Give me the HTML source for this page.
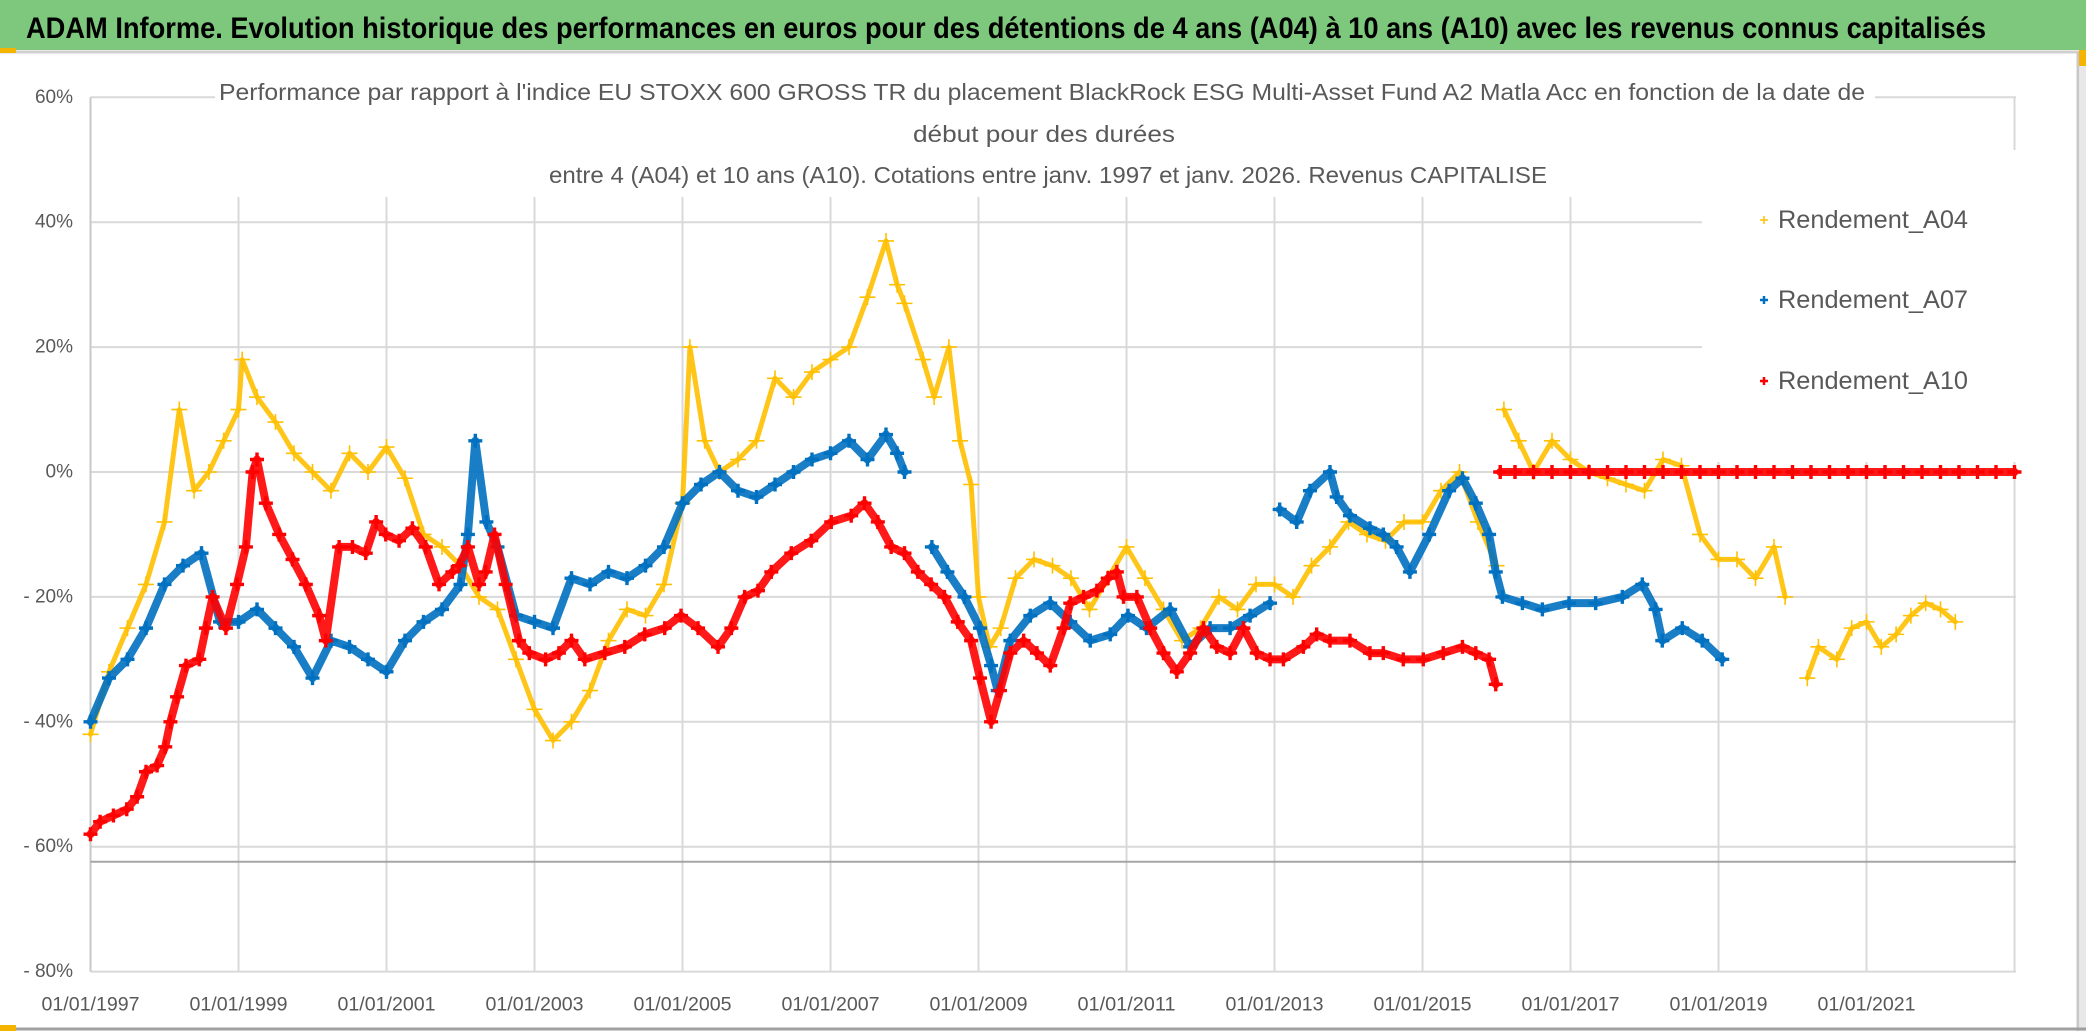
<!DOCTYPE html>
<html><head><meta charset="utf-8"><title>ADAM Informe</title>
<style>
html,body{margin:0;padding:0;background:#fff;}
svg{display:block;font-family:"Liberation Sans",sans-serif;}
</style></head>
<body>
<svg id="chart" width="2086" height="1031" viewBox="0 0 2086 1031" xmlns="http://www.w3.org/2000/svg">
  <rect x="0" y="0" width="2086" height="1031" fill="#ffffff"/>
  <rect x="0" y="0" width="2086" height="50" fill="#7dc87d"/>
  <line x1="0" y1="52" x2="2086" y2="52" stroke="#d0d0d0" stroke-width="3"/>
  <rect x="0" y="48" width="16" height="5" fill="#f4b400"/>
  <text x="26" y="38" font-size="30" font-weight="bold" fill="#000" textLength="1960" lengthAdjust="spacingAndGlyphs">ADAM Informe. Evolution historique des performances en euros pour des détentions de 4 ans (A04) à 10 ans (A10) avec les revenus connus capitalisés</text>
  <line x1="2078" y1="52" x2="2078" y2="1031" stroke="#c8c8c8" stroke-width="3"/>
  <rect x="2080" y="52" width="6" height="979" fill="#e8e8e8"/>
  <rect x="2079" y="50" width="7" height="16" fill="#f4b400"/>
  <line x1="0" y1="1029" x2="2086" y2="1029" stroke="#a0a0a0" stroke-width="3"/>
  <rect x="0" y="1025" width="16" height="6" fill="#f4b400"/>
  <g id="grid"></g>
  <rect x="215" y="70" width="1660" height="127" fill="#ffffff"/>
  <g font-size="23" fill="#595959" text-anchor="middle" dominant-baseline="central">
    <text x="1042" y="92" textLength="1646" lengthAdjust="spacingAndGlyphs">Performance  par rapport à l'indice EU STOXX 600 GROSS TR  du placement BlackRock ESG Multi-Asset Fund A2 Matla Acc en fonction de la date de</text>
    <text x="1044" y="134" textLength="262" lengthAdjust="spacingAndGlyphs">début pour des durées</text>
    <text x="1048" y="175" textLength="998" lengthAdjust="spacingAndGlyphs">entre 4 (A04) et 10 ans (A10). Cotations entre janv. 1997 et janv. 2026. Revenus CAPITALISE</text>
  </g>
  <g id="series"></g>
  <g id="legend"></g>
</svg>
<script>
// ---- data ----
const yTicks = [60, 40, 20, 0, -20, -40, -60, -80];
const yTickLabels = ["60%", "40%", "20%", "0%", "- 20%", "- 40%", "- 60%", "- 80%"];
const xTickYears = [1997, 1999, 2001, 2003, 2005, 2007, 2009, 2011, 2013, 2015, 2017, 2019, 2021];
const xTickLabels = ["01/01/1997","01/01/1999","01/01/2001","01/01/2003","01/01/2005","01/01/2007","01/01/2009","01/01/2011","01/01/2013","01/01/2015","01/01/2017","01/01/2019","01/01/2021"];
const seriesNames = ["Rendement_A04", "Rendement_A07", "Rendement_A10"];
const axisCrossValue = -62.4;

const a04Dates = [1997.0,1997.25,1997.5,1997.75,1998.0,1998.2,1998.4,1998.6,1998.8,1999.0,1999.05,1999.25,1999.5,1999.75,2000.0,2000.25,2000.5,2000.75,2001.0,2001.25,2001.5,2001.75,2002.0,2002.25,2002.5,2002.75,2003.0,2003.25,2003.5,2003.75,2004.0,2004.25,2004.5,2004.75,2005.0,2005.1,2005.3,2005.5,2005.75,2006.0,2006.25,2006.5,2006.75,2007.0,2007.25,2007.5,2007.75,2007.9,2008.0,2008.25,2008.4,2008.6,2008.75,2008.9,2009.0,2009.15,2009.3,2009.5,2009.75,2010.0,2010.25,2010.5,2010.75,2011.0,2011.25,2011.5,2011.75,2012.0,2012.25,2012.5,2012.75,2013.0,2013.25,2013.5,2013.75,2014.0,2014.25,2014.5,2014.75,2015.0,2015.25,2015.5,2015.75,2016.0,null,2016.1,2016.3,2016.5,2016.75,2017.0,2017.25,2017.5,2017.75,2018.0,2018.25,2018.5,2018.75,2019.0,2019.25,2019.5,2019.75,2019.9,null,2020.2,2020.35,2020.6,2020.8,2021.0,2021.2,2021.4,2021.6,2021.8,2022.0,2022.2];
const a04Values = [-42,-32,-25,-18,-8,10,-3,0,5,10,18,12,8,3,0,-3,3,0,4,-1,-10,-12,-15,-20,-22,-30,-38,-43,-40,-35,-27,-22,-23,-18,-5,20,5,0,2,5,15,12,16,18,20,28,37,30,27,18,12,20,5,-2,-20,-28,-25,-17,-14,-15,-17,-22,-17,-12,-17,-22,-27,-25,-20,-22,-18,-18,-20,-15,-12,-8,-10,-11,-8,-8,-3,0,-8,-15,null,10,5,0,5,2,0,-1,-2,-3,2,1,-10,-14,-14,-17,-12,-20,null,-33,-28,-30,-25,-24,-28,-26,-23,-21,-22,-24];

const a07Dates = [1997.0,1997.25,1997.5,1997.75,1998.0,1998.25,1998.5,1998.75,1999.0,1999.25,1999.5,1999.75,2000.0,2000.25,2000.5,2000.75,2001.0,2001.25,2001.5,2001.75,2002.0,2002.1,2002.2,2002.35,2002.5,2002.75,2003.0,2003.25,2003.5,2003.75,2004.0,2004.25,2004.5,2004.75,2005.0,2005.25,2005.5,2005.75,2006.0,2006.25,2006.5,2006.75,2007.0,2007.25,2007.5,2007.75,2007.9,2008.0,null,2008.37,2008.58,2008.81,2009.02,2009.17,2009.26,2009.43,2009.7,2009.97,2010.24,2010.51,2010.78,2011.02,2011.27,2011.59,2011.86,2012.13,2012.4,2012.67,2012.94,null,2013.07,2013.3,2013.48,2013.75,2013.84,2014.02,2014.29,2014.47,2014.65,2014.83,2015.09,2015.36,2015.54,2015.72,2015.9,2015.99,2016.08,2016.35,2016.62,2016.98,2017.34,2017.7,2017.97,2018.15,2018.24,2018.51,2018.78,2019.05];
const a07Values = [-40,-33,-30,-25,-18,-15,-13,-24,-24,-22,-25,-28,-33,-27,-28,-30,-32,-27,-24,-22,-18,-10,5,-8,-12,-23,-24,-25,-17,-18,-16,-17,-15,-12,-5,-2,0,-3,-4,-2,0,2,3,5,2,6,3,0,null,-12,-16,-20,-25,-31,-35,-27,-23,-21,-24,-27,-26,-23,-25,-22,-28,-25,-25,-23,-21,null,-6,-8,-3,0,-4,-7,-9,-10,-12,-16,-10,-3,-1,-5,-10,-16,-20,-21,-22,-21,-21,-20,-18,-22,-27,-25,-27,-30];

const a10Dates = [1997.0,1997.13,1997.31,1997.49,1997.63,1997.75,1997.9,1998.01,1998.08,1998.17,1998.29,1998.47,1998.56,1998.65,1998.83,1998.98,1999.1,1999.19,1999.25,1999.37,1999.55,1999.73,1999.91,2000.09,2000.18,2000.36,2000.54,2000.72,2000.86,2000.99,2001.17,2001.35,2001.53,2001.71,2001.89,2001.98,2002.1,2002.25,2002.34,2002.46,2002.61,2002.79,2002.93,2003.15,2003.33,2003.5,2003.68,2003.95,2004.22,2004.49,2004.76,2004.98,2005.21,2005.48,2005.66,2005.84,2006.02,2006.2,2006.47,2006.74,2007.01,2007.28,2007.46,2007.64,2007.82,2008.0,2008.18,2008.36,2008.54,2008.72,2008.9,2009.02,2009.17,2009.29,2009.43,2009.61,2009.79,2009.97,2010.15,2010.24,2010.42,2010.6,2010.75,2010.87,2010.96,2011.14,2011.32,2011.5,2011.68,2011.86,2012.04,2012.22,2012.4,2012.58,2012.76,2012.94,2013.12,2013.39,2013.57,2013.75,2014.02,2014.29,2014.47,2014.74,2015.01,2015.28,2015.54,2015.72,2015.9,2015.99,null,2016.05,2016.25,2016.5,2016.75,2017.0,2017.25,2017.5,2017.75,2018.0,2018.25,2018.5,2018.75,2019.0,2019.25,2019.5,2019.75,2020.0,2020.25,2020.5,2020.75,2021.0,2021.25,2021.5,2021.75,2022.0,2022.25,2022.5,2022.75,2023.0];
const a10Values = [-58,-56,-55,-54,-52,-48,-47,-44,-40,-36,-31,-30,-25,-20,-25,-18,-12,0,2,-5,-10,-14,-18,-23,-27,-12,-12,-13,-8,-10,-11,-9,-12,-18,-16,-15,-12,-18,-16,-10,-18,-27,-29,-30,-29,-27,-30,-29,-28,-26,-25,-23,-25,-28,-25,-20,-19,-16,-13,-11,-8,-7,-5,-8,-12,-13,-16,-18,-20,-24,-27,-33,-40,-35,-29,-27,-29,-31,-25,-21,-20,-19,-17,-16,-20,-20,-25,-29,-32,-29,-25,-28,-29,-25,-29,-30,-30,-28,-26,-27,-27,-29,-29,-30,-30,-29,-28,-29,-30,-34,null,0,0,0,0,0,0,0,0,0,0,0,0,0,0,0,0,0,0,0,0,0,0,0,0,0,0,0,0,0];

// ---- axes ----
const NS = "http://www.w3.org/2000/svg";
const X0 = 90.5, PX_PER_YEAR = 74, X_END = 2016;
const Y_ZERO = 472, PX_PER_PCT = 6.245;
function xScale(yr){ return X0 + (yr - 1997) * PX_PER_YEAR; }
function yScale(v){ return Y_ZERO - v * PX_PER_PCT; }
function mk(tag, attrs, parent){
  const e = document.createElementNS(NS, tag);
  for (const k in attrs) e.setAttribute(k, attrs[k]);
  parent.appendChild(e);
  return e;
}
const grid = document.getElementById('grid');
const yTop = yScale(60), yBot = yScale(-80);

xTickYears.concat([2023]).forEach((yr) => {
  const gx = xScale(yr);
  const l = mk('line', {x1: gx, y1: yTop, x2: gx, y2: yBot, stroke: '#d9d9d9', 'stroke-width': 2}, grid);
  
  
});
yTicks.forEach((v, i) => {
  const gy = yScale(v);
  const l = mk('line', {x1: X0, y1: gy, x2: X_END, y2: gy, stroke: '#d9d9d9', 'stroke-width': 2}, grid);
  
  
  const t = mk('text', {x: 73, y: gy, 'text-anchor': 'end', 'dominant-baseline': 'central', 'font-size': 19, fill: '#595959'}, grid);
  t.textContent = yTickLabels[i];
  
  
});
xTickYears.forEach((yr, i) => {
  const t = mk('text', {x: xScale(yr), y: 1005, 'text-anchor': 'middle', 'dominant-baseline': 'central', 'font-size': 19, fill: '#595959', textLength: 98, lengthAdjust: 'spacingAndGlyphs'}, grid);
  t.textContent = xTickLabels[i];
  
  
});
const yAxis = mk('line', {x1: X0, y1: yTop, x2: X0, y2: yBot, stroke: '#c8c8c8', 'stroke-width': 2}, grid);


const xAxis = mk('line', {x1: X0, y1: yScale(axisCrossValue), x2: X_END, y2: yScale(axisCrossValue), stroke: '#a6a6a6', 'stroke-width': 2}, grid);


const legBg = mk('rect', {x: 1702, y: 150, width: 316, height: 312, fill: '#ffffff'}, grid);



// ---- series ----
const seriesG = document.getElementById('series');
const colors = ['#ffc000', '#0070c0', '#ff0000'];
const lineW = [5, 8, 8];
const mSize = [8, 7, 7];
const mStroke = [1.6, 3.4, 3.4];
const allDates = [a04Dates, a07Dates, a10Dates];
const allValues = [a04Values, a07Values, a10Values];

function drawSeries(si){
  const g = mk('g', {}, seriesG);
  
  
  const d = allDates[si], v = allValues[si];
  let path = '', pen = false;
  for (let i = 0; i < d.length; i++){
    if (d[i] === null || v[i] === null){ pen = false; continue; }
    path += (pen ? 'L' : 'M') + xScale(d[i]).toFixed(1) + ' ' + yScale(v[i]).toFixed(1);
    pen = true;
  }
  const p = mk('path', {d: path, fill: 'none', stroke: colors[si], 'stroke-width': lineW[si], 'stroke-linejoin': 'round', 'stroke-linecap': 'round', opacity: 0.9}, g);
  
  
  for (let i = 0; i < d.length; i++){
    if (d[i] === null || v[i] === null) continue;
    const cx = xScale(d[i]), cy = yScale(v[i]), s = mSize[si];
    const m = mk('path', {d: `M${cx-s} ${cy}H${cx+s}M${cx} ${cy-s}V${cy+s}`, stroke: colors[si], 'stroke-width': mStroke[si], fill: 'none'}, g);
    
    
  }
}
[0, 1, 2].forEach(drawSeries);

// ---- legend ----
const leg = document.getElementById('legend');
const legY = [220, 300, 381];
seriesNames.forEach((n, i) => {
  const g = mk('g', {}, leg);
  
  
  const cx = 1764, cy = legY[i];
  const m = mk('path', {d: `M${cx-4} ${cy}H${cx+4}M${cx} ${cy-4}V${cy+4}`, stroke: colors[i], 'stroke-width': i === 0 ? 1.5 : 2.5}, g);
  
  
  const t = mk('text', {x: 1778, y: cy, 'dominant-baseline': 'central', 'font-size': 25, fill: '#595959', textLength: 190, lengthAdjust: 'spacingAndGlyphs'}, g);
  t.textContent = n;
  
  
});
</script>
</body></html>
